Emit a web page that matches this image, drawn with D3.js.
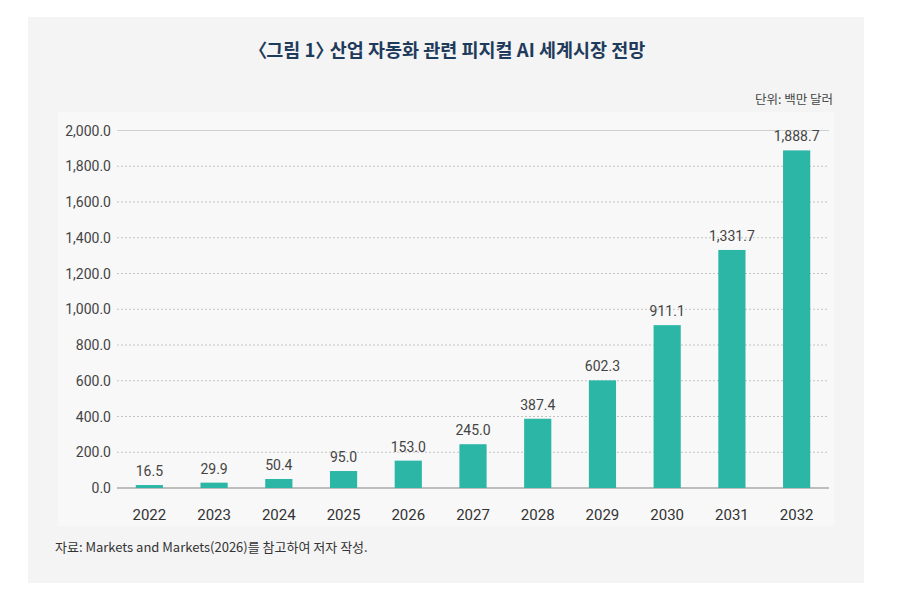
<!DOCTYPE html>
<html>
<head>
<meta charset="utf-8">
<script src="https://cdn.jsdelivr.net/npm/d3@7"></script>
<style>
  body { margin: 0; background: #fff; }
  svg { display: block; }
  .num { font-family: "Liberation Sans Narrow", "Roboto", "Noto Sans CJK KR", sans-serif; }
  .kr { font-family: "Noto Sans CJK KR", sans-serif; }
</style>
</head>
<body>
<svg id="chart" width="900" height="600"></svg>
<script>
// chart data
var years = ["2022", "2023", "2024", "2025", "2026", "2027", "2028", "2029", "2030", "2031", "2032"];
var values = [16.5, 29.9, 50.4, 95.0, 153.0, 245.0, 387.4, 602.3, 911.1, 1331.7, 1888.7];
var yTicks = [0, 200, 400, 600, 800, 1000, 1200, 1400, 1600, 1800, 2000];

var titleParts = ["〈", "그림 1", "〉", "산업 자동화 관련 피지컬 AI 세계시장 전망"];
var unitText = "단위: 백만 달러";
var sourceText = "자료: Markets and Markets(2026)를 참고하여 저자 작성.";

var svg = d3.select("#chart");
var fmt = d3.format(",.1f");

// background panel
svg.append("rect")
    .attr("x", 28).attr("y", 17)
    .attr("width", 836).attr("height", 566)
    .attr("fill", "#f4f4f4");

// lighter plot area
svg.append("rect")
    .attr("x", 58).attr("y", 112)
    .attr("width", 776).attr("height", 414)
    .attr("fill", "#f8f8f8");

var x = d3.scaleBand()
    .domain(years)
    .range([117, 829])
    .paddingInner(0.58)
    .paddingOuter(0.29);

var y = d3.scaleLinear()
    .domain([0, 2000])
    .range([488, 130.5]);

// gridlines
svg.append("g")
    .selectAll("line")
    .data(yTicks)
    .enter().append("line")
    .attr("x1", 117).attr("x2", 829)
    .attr("y1", d => y(d)).attr("y2", d => y(d))
    .attr("stroke", d => d === 0 ? "#bdbdbd" : (d === 2000 ? "#cfcfcf" : "#c4c4c4"))
    .attr("stroke-width", d => d === 0 ? 2 : 1.2)
    .attr("stroke-dasharray", d => (d === 0 || d === 2000) ? null : "2,2");

// y axis labels
svg.append("g")
    .selectAll("text")
    .data(yTicks)
    .enter().append("text")
    .attr("class", "num")
    .attr("x", 111)
    .attr("y", d => y(d))
    .attr("dy", "0.36em")
    .attr("text-anchor", "end")
    .attr("font-size", 14)
    .attr("fill", "#444")
    .text(d => fmt(d));

// bars
svg.append("g")
    .selectAll("rect")
    .data(values)
    .enter().append("rect")
    .attr("x", (d, i) => x(years[i]))
    .attr("y", d => y(d))
    .attr("width", x.bandwidth())
    .attr("height", d => y(0) - y(d))
    .attr("fill", "#2cb6a6");

// value labels
svg.append("g")
    .selectAll("text")
    .data(values)
    .enter().append("text")
    .attr("class", "num")
    .attr("x", (d, i) => x(years[i]) + x.bandwidth() / 2)
    .attr("y", d => y(d) - 9)
    .attr("text-anchor", "middle")
    .attr("font-size", 14)
    .attr("fill", "#444")
    .text(d => fmt(d));

// x axis labels
svg.append("g")
    .selectAll("text")
    .data(years)
    .enter().append("text")
    .attr("class", "num")
    .attr("x", d => x(d) + x.bandwidth() / 2)
    .attr("y", 515)
    .attr("dy", "0.36em")
    .attr("text-anchor", "middle")
    .attr("font-size", 15)
    .attr("fill", "#333")
    .text(d => d);

// title; the CJK brackets are full width, so the gap after the closing one is pulled in
var title = svg.append("text")
    .attr("class", "kr")
    .attr("x", 447).attr("y", 57)
    .attr("text-anchor", "middle")
    .attr("font-size", 18.5)
    .attr("font-weight", "bold")
    .attr("fill", "#1f3b5c");
title.append("tspan").text(titleParts[0]);
title.append("tspan").attr("dx", -1).text(titleParts[1]);
title.append("tspan").attr("dx", 0).text(titleParts[2]);
title.append("tspan").attr("dx", -4).text(titleParts[3]);

// unit
svg.append("text")
    .attr("class", "kr")
    .attr("x", 833).attr("y", 104)
    .attr("text-anchor", "end")
    .attr("font-size", 12.5)
    .attr("fill", "#444")
    .text(unitText);

// source
svg.append("text")
    .attr("class", "kr")
    .attr("x", 55).attr("y", 552)
    .attr("font-size", 13)
    .attr("fill", "#333")
    .text(sourceText);
</script>
</body>
</html>
